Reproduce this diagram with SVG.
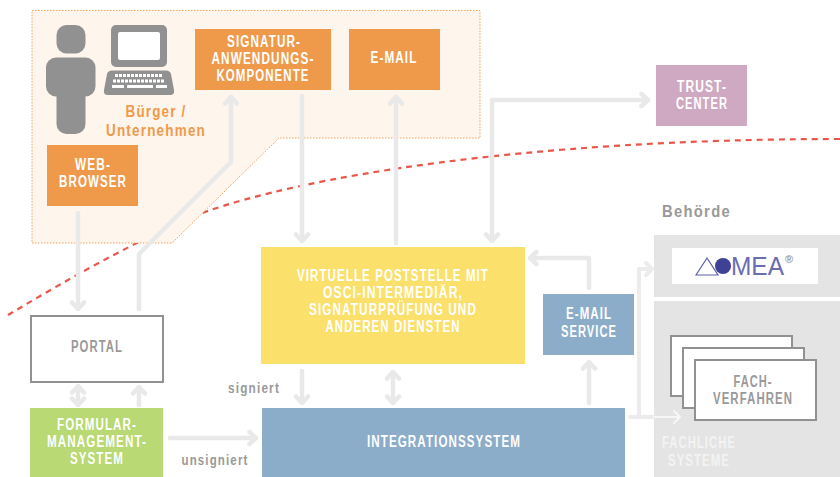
<svg xmlns="http://www.w3.org/2000/svg" width="840" height="477" viewBox="0 0 840 477">
<style>
text{font-family:"Liberation Sans",Arial,sans-serif;font-weight:700;text-anchor:middle}
.w{fill:#fff;font-size:16px;letter-spacing:1.500px}
.g{fill:#999;font-size:16px;letter-spacing:1.500px}
.o{fill:#ef9a4b;font-size:17px;letter-spacing:1.500px}
.c{fill:none;stroke:#e9e9e9;stroke-width:4.500;stroke-linecap:round;stroke-linejoin:round}
.or{fill:#ef9a4b}.bl{fill:#8cadc9}
.gy{fill:#919191}
.fv{fill:#fff;stroke:#919191;stroke-width:2}
</style>
<defs>
<marker id="a" markerUnits="userSpaceOnUse" viewBox="-14 -10 16 20" refX="0" refY="0" markerWidth="16" markerHeight="20" orient="auto-start-reverse"><path d="M-6.500,-6L0,0L-6.500,6" fill="none" stroke="#e9e9e9" stroke-width="4.500" stroke-linecap="round" stroke-linejoin="round"/></marker>
</defs>
<path id="grenze" d="M8,315C70,278 140,238 205,212C300,178 520,139 840,139" fill="none" stroke="#e8574a" stroke-width="2.200" stroke-dasharray="6 5"/>
<g id="buerger-zone"><path d="M32,10.500H480V138H279L172,243H32Z" fill="#fef5ec" stroke="#f0a35e" stroke-width="1" stroke-dasharray="1.500 1.500"/></g>
<g id="behoerde-panels"><rect x="654" y="235" width="186" height="62" fill="#e4e4e4"/><rect x="654" y="301" width="186" height="176" fill="#e4e4e4"/></g>
<g id="connectors">
<path class="c" d="M78,213V309" marker-end="url(#a)"/>
<path class="c" d="M139,309V254L231,162V97" marker-end="url(#a)"/>
<path class="c" d="M302,96V241" marker-end="url(#a)"/>
<path class="c" d="M396,243V97" marker-end="url(#a)"/>
<path class="c" d="M492,241V100H648" marker-start="url(#a)" marker-end="url(#a)"/>
<path class="c" d="M589,288V258H530" marker-end="url(#a)"/>
<path class="c" d="M302,371V403" marker-end="url(#a)"/>
<path class="c" d="M393,372V403" marker-start="url(#a)" marker-end="url(#a)"/>
<path class="c" d="M589,403V362" marker-end="url(#a)"/>
<path class="c" d="M78,386V405" marker-start="url(#a)" marker-end="url(#a)"/>
<path class="c" d="M139,405V387" marker-end="url(#a)"/>
<path class="c" d="M170,438H256" marker-end="url(#a)"/>
<path d="M630,417H654M639,417V269H652M646,263L652,269L646,275" fill="none" stroke="#ececec" stroke-width="4" stroke-linecap="round" stroke-linejoin="round"/>
<path d="M654,417H680M674,411L680,417L674,423" fill="none" stroke="#f6f6f6" stroke-width="2" stroke-linecap="round" stroke-linejoin="round"/>
</g>
<g id="person"><rect class="gy" x="56.500" y="25" width="29" height="28.500" rx="10"/><rect class="gy" x="46" y="57.500" width="49.500" height="39" rx="10"/><rect class="gy" x="56.500" y="70" width="29" height="64" rx="10"/></g>
<g id="computer"><rect class="gy" x="111" y="25" width="56" height="42" rx="5"/><rect x="118" y="32" width="42" height="28" rx="2" fill="#fff"/><path class="gy" d="M112,70.500H166Q170,70.500 171,74L174,90Q175,95 170,95H108Q103,95 104,90L107,74Q108,70.500 112,70.500Z"/>
<path d="M115,75.500H163M113,81H165" fill="none" stroke="#fff" stroke-width="3" stroke-dasharray="3 1"/><path d="M112,86.500H124M127,86.500H153M156,86.500H167" fill="none" stroke="#fff" stroke-width="3"/></g>
<g id="buerger-label"><text class="o" x="156" y="117" textLength="61" lengthAdjust="spacingAndGlyphs">Bürger /</text><text class="o" x="156" y="136" textLength="100" lengthAdjust="spacingAndGlyphs">Unternehmen</text></g>
<g id="web-browser"><rect class="or" x="47" y="145" width="91" height="61"/><text class="w" x="93" y="170" textLength="36" lengthAdjust="spacingAndGlyphs">WEB-</text><text class="w" x="93" y="187" textLength="68" lengthAdjust="spacingAndGlyphs">BROWSER</text></g>
<g id="signatur"><rect class="or" x="195" y="29" width="136" height="61"/><text class="w" x="264" y="47" textLength="74" lengthAdjust="spacingAndGlyphs">SIGNATUR-</text><text class="w" x="263" y="64" textLength="103" lengthAdjust="spacingAndGlyphs">ANWENDUNGS-</text><text class="w" x="263" y="81" textLength="93" lengthAdjust="spacingAndGlyphs">KOMPONENTE</text></g>
<g id="email"><rect class="or" x="349" y="29" width="91" height="61"/><text class="w" x="394" y="63" textLength="47" lengthAdjust="spacingAndGlyphs">E-MAIL</text></g>
<g id="trust"><rect x="656" y="65" width="91" height="61" fill="#cfa9c1"/><text class="w" x="702" y="92" textLength="50" lengthAdjust="spacingAndGlyphs">TRUST-</text><text class="w" x="702" y="109" textLength="52" lengthAdjust="spacingAndGlyphs">CENTER</text></g>
<g id="poststelle"><rect x="261" y="247" width="264" height="117" fill="#fbe06c"/><text class="w" x="393" y="281" textLength="192" lengthAdjust="spacingAndGlyphs">VIRTUELLE POSTSTELLE MIT</text><text class="w" x="393" y="298" textLength="140" lengthAdjust="spacingAndGlyphs">OSCI-INTERMEDIÄR,</text><text class="w" x="393" y="315" textLength="168" lengthAdjust="spacingAndGlyphs">SIGNATURPRÜFUNG UND</text><text class="w" x="393" y="332" textLength="135" lengthAdjust="spacingAndGlyphs">ANDEREN DIENSTEN</text></g>
<g id="email-service"><rect class="bl" x="543" y="294" width="91" height="61"/><text class="w" x="589" y="319" textLength="46" lengthAdjust="spacingAndGlyphs">E-MAIL</text><text class="w" x="589" y="337" textLength="56" lengthAdjust="spacingAndGlyphs">SERVICE</text></g>
<g id="portal"><rect x="31" y="316" width="132" height="66" fill="#fff" stroke="#919191" stroke-width="2"/><text class="g" x="97" y="352" textLength="52" lengthAdjust="spacingAndGlyphs">PORTAL</text></g>
<g id="formular"><rect x="30" y="408" width="133" height="69" fill="#b8d973"/><text class="w" x="97" y="430" textLength="80" lengthAdjust="spacingAndGlyphs">FORMULAR-</text><text class="w" x="97" y="447" textLength="100" lengthAdjust="spacingAndGlyphs">MANAGEMENT-</text><text class="w" x="97" y="464" textLength="54" lengthAdjust="spacingAndGlyphs">SYSTEM</text></g>
<g id="integration"><rect class="bl" x="262" y="408" width="363" height="69"/><text class="w" x="444" y="447" textLength="154" lengthAdjust="spacingAndGlyphs">INTEGRATIONSSYSTEM</text></g>
<g id="behoerde-label"><text class="g" x="696.500" y="217" style="font-size:17px" textLength="69" lengthAdjust="spacingAndGlyphs">Behörde</text></g>
<g id="domea"><rect x="672" y="248" width="146" height="36" fill="#fff"/><path d="M696,275L707,258L718,275Z" fill="none" stroke="#5a5da5" stroke-width="1.200"/><circle cx="723" cy="266" r="8" fill="#3f4196"/><text x="757.500" y="275" style="font-size:25px;font-weight:400;fill:#6a6db0" textLength="53" lengthAdjust="spacingAndGlyphs">MEA</text><text x="789" y="263" style="font-size:11px;fill:#999">®</text></g>
<g id="fachverfahren"><rect class="fv" x="671" y="336" width="121" height="60"/><rect class="fv" x="683" y="348" width="121" height="60"/><rect class="fv" x="695" y="360" width="121" height="60"/><text class="g" x="753" y="387" textLength="39" lengthAdjust="spacingAndGlyphs">FACH-</text><text class="g" x="753" y="404" textLength="80" lengthAdjust="spacingAndGlyphs">VERFAHREN</text></g>
<g id="fachliche-label"><text class="w" x="699" y="448" style="fill:#f3f3f3" textLength="74" lengthAdjust="spacingAndGlyphs">FACHLICHE</text><text class="w" x="699" y="466" style="fill:#f3f3f3" textLength="62" lengthAdjust="spacingAndGlyphs">SYSTEME</text></g>
<g id="labels"><text class="g" x="254" y="393" style="font-size:15px" textLength="52" lengthAdjust="spacingAndGlyphs">signiert</text><text class="g" x="215" y="465" style="font-size:15px" textLength="67" lengthAdjust="spacingAndGlyphs">unsigniert</text></g>
</svg>
